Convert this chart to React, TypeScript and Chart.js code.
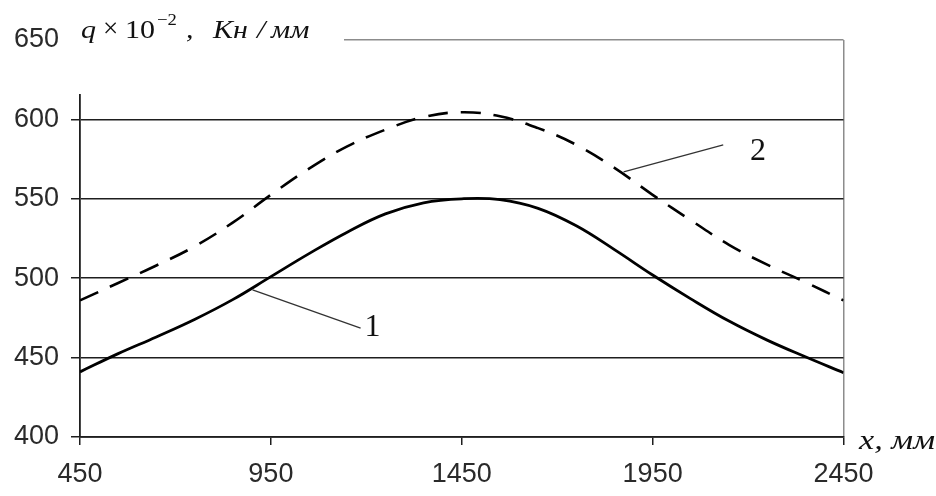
import React, { useEffect, useRef } from 'react';
import { Chart, registerables } from 'chart.js';

Chart.register(...registerables);

// ---- data ----
const X_VALUES = [450, 550, 650, 750, 850, 950, 1050, 1150, 1250, 1350, 1450, 1550, 1650, 1750, 1850, 1950, 2050, 2150, 2250, 2350, 2450];
const CURVE_1 = [441, 452.5, 463, 474, 486.5, 501, 515.5, 529, 540.5, 547.5, 550, 549.5, 544, 533, 518, 502, 487, 473, 461, 450.5, 440.5];
const CURVE_2 = [486, 497, 508, 520, 535, 552.5, 569, 583, 593.5, 601.5, 604.5, 602, 594.5, 584, 569.5, 552.5, 536.5, 521, 508.5, 497.5, 486];
const X_TICKS = [450, 950, 1450, 1950, 2450];
const Y_TICKS = [400, 450, 500, 550, 600, 650];
const CURVE_NAMES = ['1', '2'];
// leader lines (data units): start on curve, end near label; label anchor
const LEADER_FROM_X = [902, 1874];
const LEADER_FROM_Y = [492.6, 567];
const LEADER_TO_X = [1185, 2135];
const LEADER_TO_Y = [468.6, 584];
const LABEL_X = [1216, 2226];
const LABEL_Y = [468.7, 579.6];

const TICK_FONT = "'Liberation Sans', Arial, sans-serif";
const SERIF = "'Liberation Serif', 'Times New Roman', serif";
const DARK = '#1e1e1e';
const GRAY = '#8c8c8c';

const annotations = {
  id: 'annotations',
  beforeDraw(chart: any) {
    const { ctx, width, height } = chart;
    ctx.save();
    ctx.fillStyle = '#ffffff';
    ctx.fillRect(0, 0, width, height);
    ctx.restore();
  },
  afterDraw(chart: any) {
    const { ctx } = chart;
    const xs = chart.scales.x;
    const ys = chart.scales.y;
    ctx.save();
    // title box (hides top of axis and 650 gridline)
    ctx.fillStyle = '#ffffff';
    ctx.fillRect(66, 0, 278, 94);

    const piece = (text: string, px: number, base: number, font: string, sx: number) => {
      ctx.save();
      ctx.translate(px, base);
      ctx.scale(sx, 1);
      ctx.font = font;
      ctx.fillStyle = '#111';
      ctx.textAlign = 'left';
      ctx.textBaseline = 'alphabetic';
      ctx.fillText(text, 0, 0);
      ctx.restore();
    };
    const it = `italic 25px ${SERIF}`;
    const up = `normal 25px ${SERIF}`;
    const sx = 1.2;
    piece('q', 81, 38, it, sx);
    piece('\u00D7', 103, 37, `normal 27px ${SERIF}`, 1.0);
    piece('10', 125, 38, up, sx);
    piece('\u22122', 157, 25, `normal 17px ${SERIF}`, 1.1);
    piece(',', 186, 38, it, sx);
    piece('Кн', 213, 38, it, sx);
    piece('/', 257, 38, it, sx);
    piece('мм', 271, 38, it, sx);

    // x-axis unit
    {
      const font = `italic 27px ${SERIF}`;
      ctx.font = font;
      const w = ctx.measureText('x, мм').width;
      piece('x, мм', 859, 449, font, 76 / w);
    }

    // leader lines and curve labels
    ctx.strokeStyle = '#333';
    ctx.lineWidth = 1.3;
    for (let i = 0; i < CURVE_NAMES.length; i++) {
      ctx.beginPath();
      ctx.moveTo(xs.getPixelForValue(LEADER_FROM_X[i]), ys.getPixelForValue(LEADER_FROM_Y[i]));
      ctx.lineTo(xs.getPixelForValue(LEADER_TO_X[i]), ys.getPixelForValue(LEADER_TO_Y[i]));
      ctx.stroke();
      ctx.font = `normal 32px ${SERIF}`;
      ctx.fillStyle = '#111';
      ctx.textAlign = 'center';
      ctx.textBaseline = 'middle';
      ctx.fillText(CURVE_NAMES[i], xs.getPixelForValue(LABEL_X[i]), ys.getPixelForValue(LABEL_Y[i]));
    }
    ctx.restore();
  },
};

export default function App() {
  const ref = useRef<HTMLCanvasElement>(null);
  useEffect(() => {
    const canvas = ref.current;
    if (!canvas) return;
    const chart = new Chart(canvas, {
      type: 'line',
      data: {
        datasets: [
          {
            label: CURVE_NAMES[0],
            data: X_VALUES.map((x, i) => ({ x, y: CURVE_1[i] })),
            borderColor: '#000',
            borderWidth: 2.8,
            pointRadius: 0,
            tension: 0.4,
            fill: false,
          },
          {
            label: CURVE_NAMES[1],
            data: X_VALUES.map((x, i) => ({ x, y: CURVE_2[i] })),
            borderColor: '#000',
            borderWidth: 2.6,
            borderDash: [20, 13],
            pointRadius: 0,
            tension: 0.4,
            fill: false,
          },
        ],
      },
      options: {
        responsive: false,
        animation: false,
        layout: { padding: { top: 40, right: 92.5, left: 0, bottom: 0 } },
        plugins: { legend: { display: false }, tooltip: { enabled: false } },
        scales: {
          x: {
            type: 'linear',
            min: 450,
            max: 2450,
            afterBuildTicks: (s: any) => {
              s.ticks = X_TICKS.map((v) => ({ value: v }));
            },
            afterFit: (s: any) => {
              s.height = 59;
            },
            grid: {
              color: (c: any) => (c.tick && c.tick.value === 2450 ? GRAY : 'rgba(0,0,0,0)'),
              lineWidth: 1.5,
              tickColor: DARK,
              tickWidth: 1.5,
              tickLength: 8,
              drawTicks: true,
            },
            border: { color: DARK, width: 1.8 },
            ticks: {
              font: { family: TICK_FONT, size: 27 },
              color: '#2a2a2a',
              padding: 13,
              maxRotation: 0,
              autoSkip: false,
              callback: (v: any) => String(v),
            },
          },
          y: {
            type: 'linear',
            min: 400,
            max: 650,
            afterBuildTicks: (s: any) => {
              s.ticks = Y_TICKS.map((v) => ({ value: v }));
            },
            afterFit: (s: any) => {
              s.width = 80;
            },
            grid: {
              color: (c: any) => (c.tick && c.tick.value === 650 ? GRAY : DARK),
              lineWidth: 1.5,
              tickColor: DARK,
              tickWidth: 1.5,
              tickLength: 9,
              drawTicks: true,
            },
            border: { color: DARK, width: 1.8 },
            ticks: {
              font: { family: TICK_FONT, size: 27 },
              color: '#2a2a2a',
              padding: 12,
              autoSkip: false,
              callback: (v: any) => String(v),
            },
          },
        },
      },
      plugins: [annotations],
    } as any);
    return () => chart.destroy();
  }, []);
  return (
    <div style={{ position: 'fixed', left: 0, top: 0, width: 936, height: 496, background: '#fff' }}>
      <canvas ref={ref} width={936} height={496} style={{ display: 'block', width: 936, height: 496 }} />
    </div>
  );
}
